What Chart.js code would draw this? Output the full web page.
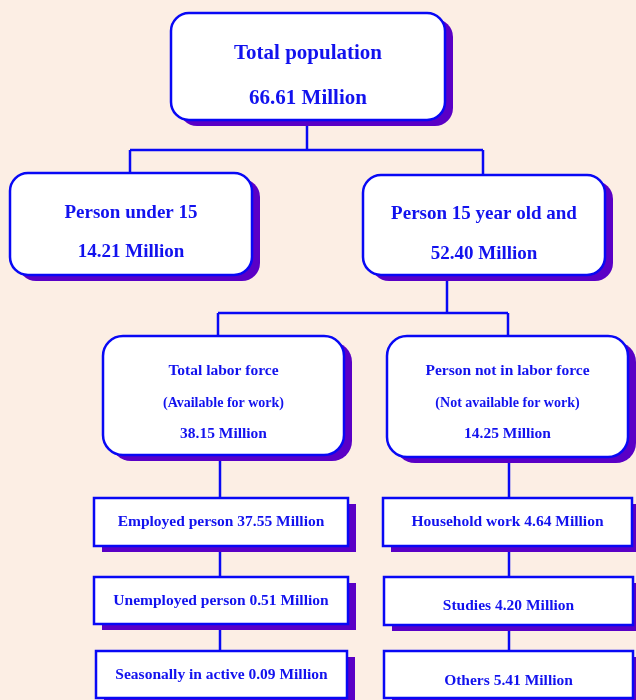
<!DOCTYPE html>
<html>
<head>
<meta charset="utf-8">
<script src="https://cdn.jsdelivr.net/npm/chart.js@4"></script>
<style>
  html, body { margin: 0; padding: 0; background: #FCEEE4; }
  #wrap { width: 636px; height: 700px; }
</style>
</head>
<body>
<div id="wrap"><canvas id="c" width="636" height="700"></canvas></div>
<script>
// ---- data ----
const nodeTitles = [
  "Total population", "Person under 15", "Person 15 year old and",
  "Total labor force", "Person not in labor force",
  "Employed person", "Unemployed person", "Seasonally in active",
  "Household work", "Studies", "Others"
];
const nodeNotes = ["", "", "", "(Available for work)", "(Not available for work)", "", "", "", "", "", ""];
const nodeValues = [66.61, 14.21, 52.40, 38.15, 14.25, 37.55, 0.51, 0.09, 4.64, 4.20, 5.41];
const valueUnit = "Million";

// ---- layout (diagram coordinates on the hidden 0..636 x 0..700 scales) ----
const boxLayout = [
  {x0:171, y0:13,  x1:445, y1:120, r:18, kind:"big",   fs:21, lines:[54, 99]},
  {x0:10,  y0:173, x1:252, y1:275, r:18, kind:"mid",   fs:19, lines:[213, 252]},
  {x0:363, y0:175, x1:605, y1:275, r:18, kind:"mid",   fs:19, lines:[214, 254]},
  {x0:103, y0:336, x1:344, y1:455, r:20, kind:"three", fs:15.5, fsNote:14, lines:[371, 403, 434]},
  {x0:387, y0:336, x1:628, y1:457, r:20, kind:"three", fs:15.5, fsNote:14, lines:[371, 403, 434]},
  {x0:94,  y0:498, x1:348, y1:546, r:0,  kind:"inline", fs:15.5, lines:[522]},
  {x0:94,  y0:577, x1:348, y1:624, r:0,  kind:"inline", fs:15.5, lines:[601]},
  {x0:96,  y0:651, x1:347, y1:698, r:0,  kind:"inline", fs:15.5, lines:[675]},
  {x0:383, y0:498, x1:632, y1:546, r:0,  kind:"inline", fs:15.5, lines:[522]},
  {x0:384, y0:577, x1:633, y1:625, r:0,  kind:"inline", fs:15.5, lines:[606]},
  {x0:384, y0:651, x1:633, y1:698, r:0,  kind:"inline", fs:15.5, lines:[681]}
];
const connectorLayout = [
  [[307,120],[307,150]], [[130,150],[483,150]], [[130,150],[130,173]], [[483,150],[483,175]],
  [[447,275],[447,313]], [[218,313],[508,313]], [[218,313],[218,336]], [[508,313],[508,336]],
  [[220,455],[220,498]], [[220,546],[220,577]], [[220,624],[220,651]],
  [[509,457],[509,498]], [[509,546],[509,577]], [[509,625],[509,651]]
];

const BLUE = "#0808F5", TEXT = "#1212EE", SHADOW = "#5A00C6", FILL = "#FFFFFF";
const FONT = "'Liberation Serif', 'Times New Roman', serif";

function rr(ctx, x, y, w, h, r) {
  ctx.beginPath();
  if (r > 0) { ctx.roundRect(x, y, w, h, r); } else { ctx.rect(x, y, w, h); }
}

const diagramPlugin = {
  id: "diagram",
  afterDraw(chart) {
    const ctx = chart.ctx, sx = chart.scales.x, sy = chart.scales.y;
    const px = v => sx.getPixelForValue(v), py = v => sy.getPixelForValue(v);
    ctx.save();
    // connectors
    ctx.strokeStyle = BLUE; ctx.lineWidth = 2.5; ctx.lineCap = "butt";
    connectorLayout.forEach(seg => {
      ctx.beginPath();
      ctx.moveTo(px(seg[0][0]), py(seg[0][1]));
      ctx.lineTo(px(seg[1][0]), py(seg[1][1]));
      ctx.stroke();
    });
    // boxes
    boxLayout.forEach((b, i) => {
      const x0 = px(b.x0), y0 = py(b.y0), x1 = px(b.x1), y1 = py(b.y1);
      const w = x1 - x0, h = y1 - y0;
      ctx.fillStyle = SHADOW;
      rr(ctx, x0 + 8, y0 + 6, w, h, b.r); ctx.fill();
      ctx.fillStyle = FILL;
      rr(ctx, x0, y0, w, h, b.r); ctx.fill();
      ctx.strokeStyle = BLUE; ctx.lineWidth = 2.5;
      rr(ctx, x0, y0, w, h, b.r); ctx.stroke();

      const cx = (x0 + x1) / 2;
      const valText = nodeValues[i].toFixed(2) + " " + valueUnit;
      ctx.fillStyle = TEXT; ctx.textAlign = "center"; ctx.textBaseline = "middle";
      if (b.kind === "inline") {
        ctx.font = "bold " + b.fs + "px " + FONT;
        ctx.fillText(nodeTitles[i] + " " + valText, cx, py(b.lines[0]));
      } else if (b.kind === "three") {
        ctx.font = "bold " + b.fs + "px " + FONT;
        ctx.fillText(nodeTitles[i], cx, py(b.lines[0]));
        ctx.font = "bold " + b.fsNote + "px " + FONT;
        ctx.fillText(nodeNotes[i], cx, py(b.lines[1]));
        ctx.font = "bold " + b.fs + "px " + FONT;
        ctx.fillText(valText, cx, py(b.lines[2]));
      } else {
        ctx.font = "bold " + b.fs + "px " + FONT;
        ctx.fillText(nodeTitles[i], cx, py(b.lines[0]));
        ctx.fillText(valText, cx, py(b.lines[1]));
      }
    });
    ctx.restore();
  }
};

new Chart(document.getElementById("c"), {
  type: "scatter",
  data: { datasets: [{ data: [], pointRadius: 0 }] },
  options: {
    responsive: false,
    animation: false,
    devicePixelRatio: 1,
    layout: { padding: 0 },
    plugins: { legend: { display: false }, tooltip: { enabled: false } },
    scales: {
      x: { type: "linear", min: 0, max: 636, display: false },
      y: { type: "linear", min: 0, max: 700, reverse: true, display: false }
    }
  },
  plugins: [diagramPlugin]
});
</script>
</body>
</html>
